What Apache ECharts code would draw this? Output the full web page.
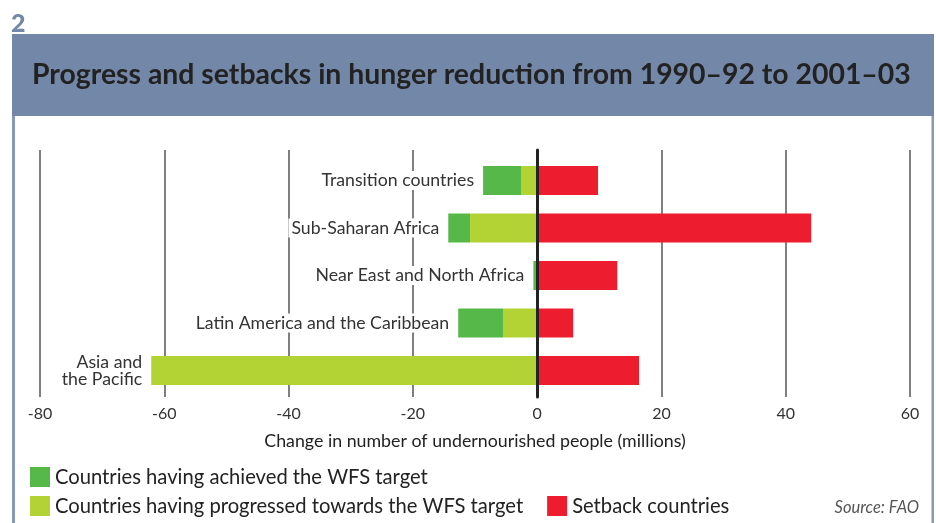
<!DOCTYPE html>
<html>
<head>
<meta charset="utf-8">
<script src="https://cdn.jsdelivr.net/npm/echarts@6/dist/echarts.min.js"></script>
<style>
  html, body { margin: 0; padding: 0; background: #fff; }
  #chart { width: 936px; height: 523px; }
</style>
</head>
<body>
<div id="chart"></div>
<script>
// data (millions)
const regions = ['Transition countries', 'Sub-Saharan Africa', 'Near East and North Africa',
                 'Latin America and the Caribbean', 'Asia and\nthe Pacific'];
const achieved = [-6.1, -3.5, -0.6, -7.2, 0];
const progressed = [-2.6, -10.8, 0, -5.5, -62.1];
const setback = [9.8, 44.1, 12.9, 5.8, 16.4];
const seriesNames = ['Countries having achieved the WFS target',
                     'Countries having progressed towards the WFS target',
                     'Setback countries'];
const xMin = -80, xMax = 60, xStep = 20;

const FONT = 'Lato';
const BAND = '#7388a8';
const colors = ['#55b848', '#b3d335', '#ed1c2e'];

const chart = echarts.init(document.getElementById('chart'));

// label goes on the outermost non-empty negative segment
const labelCfg = {
  position: 'left',
  distance: 6,
  formatter: '{b}',
  color: '#333',
  fontFamily: FONT,
  fontSize: 17.7,
  lineHeight: 17,
  align: 'right',
  backgroundColor: '#fff',
  padding: [1, 3]
};
const achievedData = achieved.map(v => ({ value: v, label: { show: v !== 0 } }));
const progressedData = progressed.map((v, i) => ({ value: v, label: { show: achieved[i] === 0 } }));

const option = {
  backgroundColor: '#fff',
  animation: false,
  textStyle: { fontFamily: FONT },
  grid: [
    { left: 40, right: 26, top: 150, bottom: 126 },       // grid lines + zero line
    { left: 40, right: 26, top: 156.75, bottom: 128.75 }  // bars
  ],
  xAxis: [
    {
      gridIndex: 0, type: 'value', min: xMin, max: xMax, interval: xStep,
      axisLine: { show: false },
      axisTick: { show: false },
      splitLine: { show: true, lineStyle: { color: '#606060', width: 1.6 } },
      axisLabel: { color: '#333', fontSize: 16, margin: 9, fontFamily: FONT },
      name: 'Change in number of undernourished people (millions)',
      nameLocation: 'middle',
      nameGap: 35,
      nameTextStyle: { color: '#222', fontSize: 17.8, fontFamily: FONT }
    },
    {
      gridIndex: 1, type: 'value', min: xMin, max: xMax, interval: xStep,
      show: false
    }
  ],
  yAxis: [
    {
      gridIndex: 0, type: 'value', z: 10,
      axisLine: { show: true, onZero: true, lineStyle: { color: '#222', width: 3 } },
      axisTick: { show: false },
      axisLabel: { show: false },
      splitLine: { show: false }
    },
    {
      gridIndex: 1, type: 'category', inverse: true, data: regions,
      axisLine: { show: false },
      axisTick: { show: false },
      axisLabel: { show: false },
      splitLine: { show: false }
    }
  ],
  legend: [
    {
      data: [seriesNames[0]],
      left: 30, top: 467,
      icon: 'rect', itemWidth: 20, itemHeight: 20,
      padding: 0,
      textStyle: { color: '#222', fontSize: 20.2, fontFamily: FONT }
    },
    {
      data: [seriesNames[1], seriesNames[2]],
      left: 30, top: 496,
      icon: 'rect', itemWidth: 20, itemHeight: 20, itemGap: 24,
      padding: 0,
      textStyle: { color: '#222', fontSize: 20.2, fontFamily: FONT }
    }
  ],
  series: [
    {
      name: seriesNames[1], type: 'bar', stack: 'a',
      xAxisIndex: 1, yAxisIndex: 1, barWidth: 29,
      itemStyle: { color: colors[1] },
      label: labelCfg,
      data: progressedData
    },
    {
      name: seriesNames[0], type: 'bar', stack: 'a',
      xAxisIndex: 1, yAxisIndex: 1, barWidth: 29,
      itemStyle: { color: colors[0] },
      label: labelCfg,
      data: achievedData
    },
    {
      name: seriesNames[2], type: 'bar', stack: 'a',
      xAxisIndex: 1, yAxisIndex: 1, barWidth: 29,
      itemStyle: { color: colors[2] },
      data: setback
    }
  ],
  graphic: [
    { type: 'rect', shape: { x: 12, y: 34, width: 922, height: 82 }, style: { fill: BAND }, silent: true },
    { type: 'rect', shape: { x: 12, y: 116, width: 3, height: 407 }, style: { fill: '#8699b9' }, silent: true },
    { type: 'rect', shape: { x: 931.5, y: 116, width: 2.5, height: 407 }, style: { fill: '#8699b9' }, silent: true },
    {
      type: 'text', left: 11, top: 11,
      style: { text: '2', fill: BAND, font: '900 25px ' + FONT }
    },
    {
      type: 'text', x: 32, y: 75,
      style: {
        text: 'Progress and setbacks in hunger reduction from 1990\u201392 to 2001\u201303',
        fill: '#222', font: 'bold 28.4px ' + FONT, textVerticalAlign: 'middle'
      }
    },
    {
      type: 'text', x: 919, y: 508,
      style: {
        text: 'Source: FAO', fill: '#555', font: 'italic 16.5px ' + FONT,
        textAlign: 'right', textVerticalAlign: 'middle'
      }
    }
  ]
};

chart.setOption(option);

window.addEventListener('resize', () => chart.resize());
</script>
</body>
</html>
